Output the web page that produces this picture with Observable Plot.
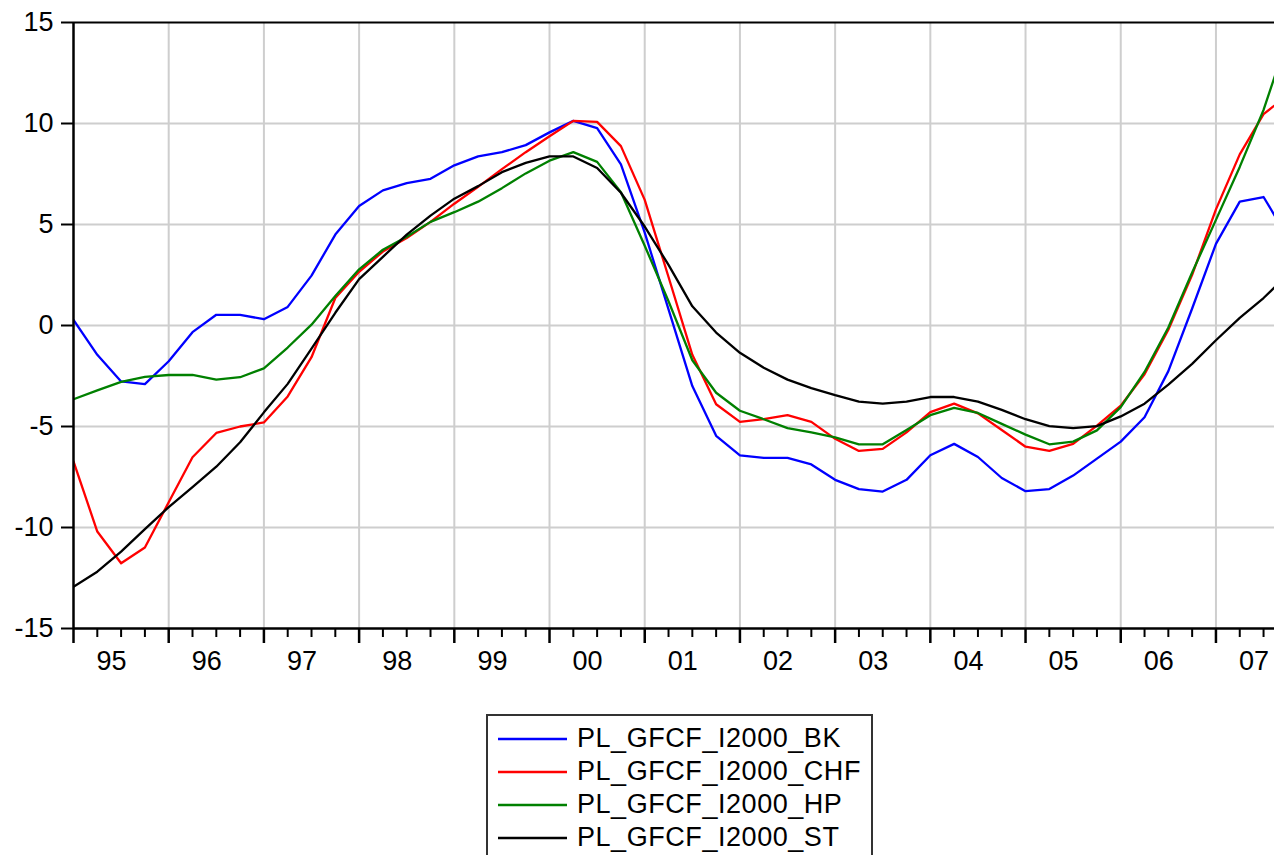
<!DOCTYPE html>
<html>
<head>
<meta charset="utf-8">
<script src="https://cdn.jsdelivr.net/npm/d3@7"></script>
<script src="https://cdn.jsdelivr.net/npm/@observablehq/plot@0.6"></script>
<style>
  html, body { margin: 0; padding: 0; background: #fff; overflow: hidden; }
  body { width: 1274px; height: 855px; position: relative; font-family: "Liberation Sans", Arial, sans-serif; }
  #chart svg { display: block; }
  #legend { position: absolute; left: 486px; top: 714px; width: 383px; height: 160px; border: 2px solid #333; box-sizing: content-box; padding-top: 6px; }
  .row { display: flex; align-items: center; height: 33px; }
  .sw { width: 69px; margin-left: 10px; margin-right: 10px; }
  .lab { font-size: 27px; letter-spacing: 0.55px; line-height: 33px; color: #000; white-space: nowrap; }
</style>
</head>
<body>
<div id="chart"></div>
<div id="legend"></div>
<script>
// Quarterly series, 1995Q1 .. 2007Q4
const startYear = 1995;
const nQuarters = 52;
const seriesNames = ["PL_GFCF_I2000_BK", "PL_GFCF_I2000_CHF", "PL_GFCF_I2000_HP", "PL_GFCF_I2000_ST"];
const seriesColors = ["#0000ff", "#ff0000", "#008000", "#000000"];

const bk = [
  0.28, -1.45, -2.77, -2.9,
  -1.77, -0.33, 0.53, 0.53,
  0.31, 0.92, 2.47, 4.50,
  5.92, 6.69, 7.05, 7.26,
  7.93, 8.37, 8.58, 8.93,
  9.56, 10.13, 9.77, 7.98,
  4.6, 0.8, -3.0, -5.46,
  -6.43, -6.55, -6.55, -6.88,
  -7.64, -8.1, -8.22, -7.64,
  -6.42, -5.86, -6.51, -7.55,
  -8.2, -8.1, -7.43, -6.59,
  -5.75, -4.54, -2.26, 0.84,
  4.04, 6.13, 6.36, 4.4
];
const chf = [
  -6.73, -10.2, -11.77, -10.99,
  -8.75, -6.52, -5.32, -5.0,
  -4.8, -3.51, -1.57, 1.36,
  2.66, 3.66, 4.33, 5.13,
  6.03, 6.86, 7.74, 8.58,
  9.37, 10.13, 10.08, 8.88,
  6.22, 2.4, -1.45, -3.9,
  -4.77, -4.64, -4.44, -4.77,
  -5.61, -6.21, -6.11, -5.29,
  -4.29, -3.87, -4.35, -5.17,
  -6.0, -6.21, -5.86, -4.96,
  -3.97, -2.41, -0.21, 2.51,
  5.75, 8.47, 10.46, 11.4
];
const hp = [
  -3.65, -3.21, -2.79, -2.54,
  -2.45, -2.45, -2.68, -2.56,
  -2.12, -1.09, 0.04, 1.46,
  2.78, 3.75, 4.39, 5.13,
  5.61, 6.13, 6.8, 7.53,
  8.16, 8.58, 8.1, 6.6,
  3.95, 1.2, -1.72, -3.33,
  -4.22, -4.64, -5.08, -5.29,
  -5.54, -5.88, -5.88, -5.17,
  -4.44, -4.08, -4.33, -4.87,
  -5.4, -5.88, -5.75, -5.19,
  -4.04, -2.3, -0.1, 2.62,
  5.23, 7.85, 10.67, 14.2
];
const st = [
  -12.94, -12.19, -11.19, -10.08,
  -8.99, -8.0, -6.99, -5.78,
  -4.3, -2.89, -1.15, 0.63,
  2.30, 3.4, 4.5, 5.44,
  6.28, 6.9, 7.59, 8.05,
  8.37, 8.37, 7.8, 6.57,
  4.9, 3.0, 0.95, -0.35,
  -1.35, -2.09, -2.68, -3.1,
  -3.45, -3.77, -3.87, -3.77,
  -3.54, -3.54, -3.77, -4.18,
  -4.64, -4.98, -5.08, -4.98,
  -4.5, -3.87, -2.93, -1.9,
  -0.73, 0.38, 1.36, 2.5
];
const yearLabels = ["95","96","97","98","99","00","01","02","03","04","05","06","07"];
const yTicks = [-15, -10, -5, 0, 5, 10, 15];
const yGrid = [-10, -5, 0, 5, 10];
const xDomain = [1995, 2007.615];

// build table
const allSeries = [bk, chf, hp, st];
const quarterTime = d3.range(nQuarters).map(i => startYear + i / 4);
const rows = [];
allSeries.forEach((vals, s) => vals.forEach((v, i) => rows.push({t: quarterTime[i], v, series: seriesNames[s]})));

const yearStarts = yearLabels.map((_, i) => startYear + i);
const quarterTicks = quarterTime.filter(t => t % 1 !== 0);
const labelPos = yearStarts.map(y => y + 0.4);

const H = 700;
const grid = "#cecece";
const chart = Plot.plot({
  width: 1274,
  height: H,
  marginLeft: 73,
  marginRight: 0,
  marginTop: 22,
  marginBottom: H - 628,
  style: {fontFamily: '"Liberation Sans", Arial, sans-serif', fontSize: "27px", color: "#000", background: "#fff", overflow: "hidden"},
  x: {domain: xDomain, axis: null, label: null},
  y: {domain: [-15, 15], axis: null, label: null},
  marks: [
    Plot.ruleX(yearStarts.slice(1), {stroke: grid, strokeWidth: 2}),
    Plot.ruleY(yGrid, {stroke: grid, strokeWidth: 2}),
    ...seriesNames.map((name, s) =>
      Plot.line(rows.filter(r => r.series === name), {x: "t", y: "v", stroke: seriesColors[s], strokeWidth: 2.3, clip: true})
    ),
    Plot.ruleY([15], {stroke: "#000", strokeWidth: 2}),
    Plot.ruleX([1995], {stroke: "#000", strokeWidth: 2.5}),
    Plot.ruleY([-15], {stroke: "#000", strokeWidth: 2.5}),
    Plot.axisY({ticks: yTicks, label: null, tickSize: 12, tickPadding: 8, tickFormat: d => String(d), strokeWidth: 2, fontSize: 27}),
    Plot.axisX({ticks: yearStarts, label: null, tickSize: 15, tickFormat: () => "", strokeWidth: 2.5}),
    Plot.axisX({ticks: quarterTicks, label: null, tickSize: 9, tickFormat: () => "", strokeWidth: 2}),
    Plot.axisX({ticks: labelPos, label: null, tickSize: 0, tickPadding: 22, tickFormat: (d, i) => yearLabels[i], fontSize: 27})
  ]
});
document.getElementById("chart").appendChild(chart);

// legend
const legend = document.getElementById("legend");
seriesNames.forEach((name, s) => {
  const row = document.createElement("div");
  row.className = "row";
  row.innerHTML = `<svg class="sw" width="69" height="6"><line x1="0" x2="69" y1="3" y2="3" stroke="${seriesColors[s]}" stroke-width="2.5"/></svg><span class="lab">${name}</span>`;
  legend.appendChild(row);
});
</script>
</body>
</html>
